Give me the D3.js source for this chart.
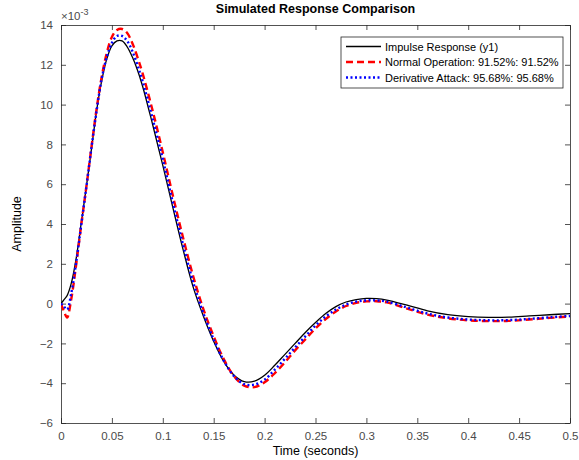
<!DOCTYPE html>
<html>
<head>
<meta charset="utf-8">
<script src="https://cdn.jsdelivr.net/npm/d3@7"></script>
<style>
  body { margin: 0; background: #fff; }
  text { font-family: "Liberation Sans", Arial, sans-serif; }
</style>
</head>
<body>
<div id="chart"></div>
<script>
// time (s) shared by all series
const time = [0, 0.003, 0.006, 0.01, 0.015, 0.02, 0.025, 0.03, 0.035, 0.04, 0.045, 0.05, 0.055, 0.06, 0.065, 0.07, 0.075, 0.08,
  0.09, 0.10, 0.11, 0.12, 0.13, 0.14, 0.15, 0.16, 0.17, 0.18, 0.19, 0.20, 0.21, 0.22, 0.23, 0.24, 0.25, 0.26, 0.27, 0.28,
  0.29, 0.30, 0.31, 0.32, 0.34, 0.36, 0.38, 0.40, 0.42, 0.44, 0.46, 0.48, 0.50];

// amplitude values, x 1e-3
const impulse = [0, 0.2, 0.4, 1.0, 2.3, 4.1, 5.9, 7.8, 9.7, 11.2, 12.3, 12.95, 13.2, 13.2, 12.9, 12.4, 11.75, 10.95,
  9.0, 6.95, 4.8, 2.7, 0.8, -0.65, -1.9, -2.92, -3.6, -3.92, -3.9, -3.6, -3.1, -2.55, -2.0, -1.45, -0.95, -0.5, -0.15, 0.08,
  0.2, 0.26, 0.25, 0.18, -0.08, -0.36, -0.55, -0.65, -0.69, -0.68, -0.62, -0.56, -0.5];

const normalOp = [0, -0.4, -0.7, 0.2, 2.0, 4.0, 5.9, 7.9, 9.8, 11.4, 12.6, 13.4, 13.75, 13.8, 13.6, 13.1, 12.4, 11.6,
  9.7, 7.6, 5.4, 3.3, 1.35, -0.3, -1.65, -2.8, -3.65, -4.12, -4.2, -3.95, -3.5, -2.95, -2.35, -1.8, -1.25, -0.78, -0.4, -0.12,
  0.04, 0.11, 0.12, 0.06, -0.25, -0.55, -0.74, -0.84, -0.88, -0.87, -0.8, -0.72, -0.65];

const derivAttack = [0, -0.15, -0.3, 0.5, 2.1, 4.0, 5.9, 7.85, 9.7, 11.3, 12.4, 13.1, 13.45, 13.45, 13.2, 12.7, 12.0, 11.2,
  9.3, 7.25, 5.05, 2.95, 1.05, -0.5, -1.8, -2.88, -3.65, -4.05, -4.07, -3.82, -3.32, -2.77, -2.2, -1.65, -1.1, -0.65, -0.3, -0.05,
  0.1, 0.16, 0.16, 0.1, -0.2, -0.5, -0.7, -0.8, -0.84, -0.83, -0.77, -0.69, -0.62];

const seriesNames = ["Impulse Response (y1)", "Normal Operation: 91.52%: 91.52%", "Derivative Attack: 95.68%: 95.68%"];
const xTicks = [0, 0.05, 0.1, 0.15, 0.2, 0.25, 0.3, 0.35, 0.4, 0.45, 0.5];
const yTicks = [-6, -4, -2, 0, 2, 4, 6, 8, 10, 12, 14];

const width = 579, height = 460;
const margin = { top: 25, right: 9, bottom: 37, left: 61 };

const svg = d3.select('#chart').append('svg')
  .attr('width', width)
  .attr('height', height);

const x = d3.scaleLinear().domain([0, 0.5]).range([margin.left, width - margin.right]);
const y = d3.scaleLinear().domain([-6, 14]).range([height - margin.bottom, margin.top]);

const axisColor = '#262626';

// axes with inward ticks on all four sides
const tickLen = 5;
svg.append('g')
  .attr('transform', `translate(0,${y(-6)})`)
  .call(d3.axisBottom(x).tickValues(xTicks).tickSizeInner(-tickLen).tickSizeOuter(0).tickPadding(9)
    .tickFormat(d => d3.format('~g')(d)));
svg.append('g')
  .attr('transform', `translate(0,${y(14)})`)
  .call(d3.axisTop(x).tickValues(xTicks).tickSizeInner(-tickLen).tickSizeOuter(0).tickFormat(''));
svg.append('g')
  .attr('transform', `translate(${x(0)},0)`)
  .call(d3.axisLeft(y).tickValues(yTicks).tickSizeInner(-tickLen).tickSizeOuter(0).tickPadding(8));
svg.append('g')
  .attr('transform', `translate(${x(0.5)},0)`)
  .call(d3.axisRight(y).tickValues(yTicks).tickSizeInner(-tickLen).tickSizeOuter(0).tickFormat(''));

svg.selectAll('.domain, .tick line').attr('stroke', axisColor).attr('stroke-width', 0.8);
svg.selectAll('.tick text')
  .attr('fill', '#4a4a4a')
  .style('font-size', '11.5px')
  .style('font-family', '"Liberation Sans", Arial, sans-serif');

// curves
const clipId = 'plot-clip';
svg.append('clipPath').attr('id', clipId).append('rect')
  .attr('x', x(0)).attr('y', y(14))
  .attr('width', x(0.5) - x(0)).attr('height', y(-6) - y(14));

const line = d3.line()
  .x(d => x(d[0]))
  .y(d => y(d[1]))
  .curve(d3.curveCatmullRom.alpha(0.5));

const series = [
  { values: impulse, color: '#000000', width: 1.3, dash: null },
  { values: normalOp, color: '#ff0000', width: 2.4, dash: '7,4' },
  { values: derivAttack, color: '#0000ff', width: 2.4, dash: '2,2.5' }
];

const plot = svg.append('g').attr('clip-path', `url(#${clipId})`);
series.forEach(s => {
  plot.append('path')
    .datum(time.map((t, i) => [t, s.values[i]]))
    .attr('fill', 'none')
    .attr('stroke', s.color)
    .attr('stroke-width', s.width)
    .attr('stroke-dasharray', s.dash)
    .attr('d', line);
});

// exponent label
const expo = svg.append('text')
  .attr('x', x(0))
  .attr('y', 20)
  .attr('fill', '#4a4a4a')
  .style('font-size', '11.5px');
expo.append('tspan').text('\u00d710');
expo.append('tspan').attr('dy', -5).style('font-size', '9px').text('-3');

// title and axis labels
svg.append('text')
  .attr('x', (x(0) + x(0.5)) / 2)
  .attr('y', 13)
  .attr('text-anchor', 'middle')
  .style('font-size', '12.5px')
  .style('font-weight', 'bold')
  .text('Simulated Response Comparison');

svg.append('text')
  .attr('x', (x(0) + x(0.5)) / 2)
  .attr('y', 455)
  .attr('text-anchor', 'middle')
  .style('font-size', '12.5px')
  .text('Time (seconds)');

svg.append('text')
  .attr('transform', `translate(21,${(y(-6) + y(14)) / 2}) rotate(-90)`)
  .attr('text-anchor', 'middle')
  .style('font-size', '12.5px')
  .text('Amplitude');

// legend
const legend = svg.append('g').attr('transform', 'translate(341,37)');
legend.append('rect')
  .attr('width', 222).attr('height', 51)
  .attr('fill', '#fff')
  .attr('stroke', axisColor)
  .attr('stroke-width', 0.8);
series.forEach((s, i) => {
  const ly = 9.5 + i * 15.5;
  legend.append('line')
    .attr('x1', 5).attr('x2', 40)
    .attr('y1', ly).attr('y2', ly)
    .attr('stroke', s.color)
    .attr('stroke-width', s.width)
    .attr('stroke-dasharray', s.dash);
  legend.append('text')
    .attr('x', 44).attr('y', ly + 4)
    .style('font-size', '11px')
    .text(seriesNames[i]);
});
</script>
</body>
</html>
